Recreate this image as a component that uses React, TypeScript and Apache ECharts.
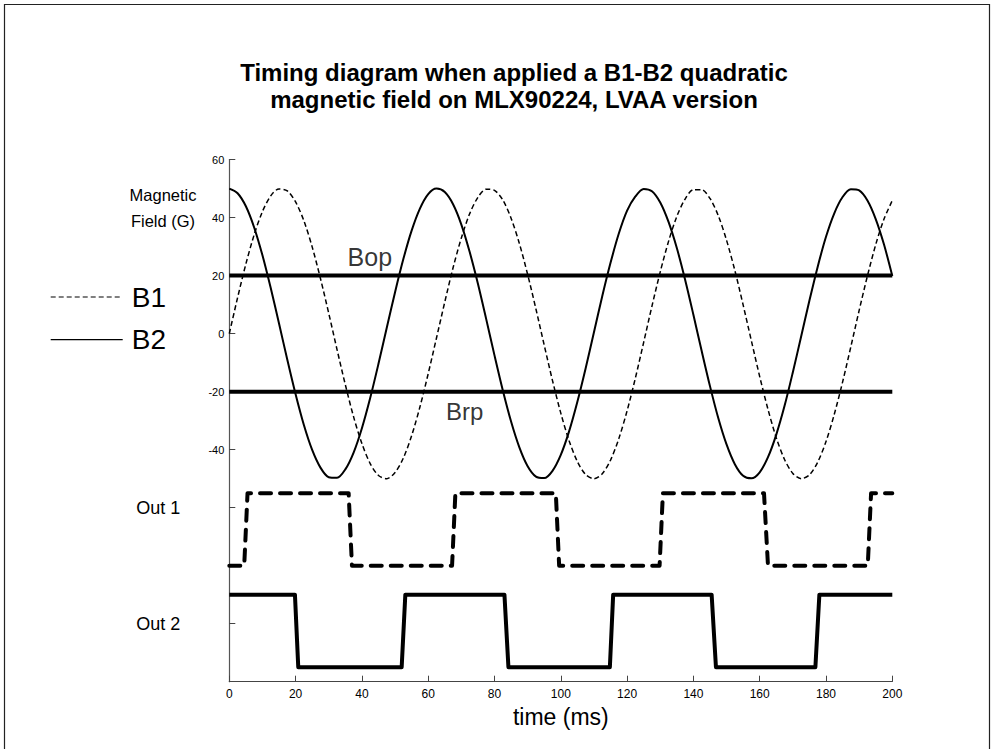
import React, { useEffect, useRef } from "react";
import * as echarts from "echarts";

const times = [0, 2.5, 5, 7.5, 10, 12.5, 15, 17.5, 20, 22.5, 25, 27.5, 30, 32.5, 35, 37.5, 40, 42.5, 45, 47.5, 50, 52.5, 55, 57.5, 60, 62.5, 65, 67.5, 70, 72.5, 75, 77.5, 80, 82.5, 85, 87.5, 90, 92.5, 95, 97.5, 100, 102.5, 105, 107.5, 110, 112.5, 115, 117.5, 120, 122.5, 125, 127.5, 130, 132.5, 135, 137.5, 140, 142.5, 145, 147.5, 150, 152.5, 155, 157.5, 160, 162.5, 165, 167.5, 170, 172.5, 175, 177.5, 180, 182.5, 185, 187.5, 190, 192.5, 195, 197.5, 200];
const b1Values = [0, 12.4, 24.0, 34.1, 42.1, 47.5, 49.9, 49.2, 45.4, 38.9, 29.9, 19.0, 7.0, -5.5, -17.6, -28.7, -37.9, -44.8, -48.9, -50.0, -47.9, -42.9, -35.2, -25.3, -13.8, -1.5, 10.9, 22.7, 33.0, 41.3, 47.0, 49.8, 49.4, 46.1, 39.8, 31.1, 20.4, 8.5, -4.0, -16.2, -27.4, -36.9, -44.1, -48.6, -50.0, -48.3, -43.6, -36.2, -26.6, -15.3, -3.0, 9.5, 21.3, 31.8, 40.4, 46.4, 49.6, 49.6, 46.6, 40.7, 32.2, 21.8, 9.9, -2.5, -14.8, -26.1, -35.9, -43.4, -48.2, -50.0, -48.7, -44.3, -37.2, -27.8, -16.7, -4.5, 8.0, 19.9, 30.7, 39.5, 45.9];
const b2Values = [50, 48.4, 43.9, 36.6, 27.0, 15.7, 3.5, -9.0, -20.9, -31.5, -40.1, -46.2, -49.5, -49.7, -46.8, -41.0, -32.6, -22.2, -10.4, 2.0, 14.3, 25.7, 35.5, 43.1, 48.1, 50.0, 48.8, 44.6, 37.6, 28.2, 17.2, 5.0, -7.5, -19.5, -30.3, -39.2, -45.7, -49.3, -49.8, -47.3, -41.8, -33.7, -23.5, -11.9, 0.5, 12.9, 24.4, 34.5, 42.4, 47.3, 49.9, 49.1, 45.2, 38.5, 29.5, 18.6, 6.5, -6.0, -18.1, -29.1, -38.2, -45.0, -49.0, -49.9, -47.8, -42.6, -34.8, -24.9, -13.3, -1.0, 11.4, 23.1, 33.4, 41.5, 47.1, 49.8, 49.4, 45.9, 39.5, 30.7, 19.9];

const out1Times = [0, 4.5, 5.5, 36, 37, 67.2, 68.2, 98.5, 99.5, 129.8, 130.8, 161.3, 162.5, 192.6, 193.6, 200];
const out1Values = [-80, -80, -55, -55, -80, -80, -55, -55, -80, -80, -55, -55, -80, -80, -55, -55];
const out2Times = [0, 19.8, 20.8, 52, 53.1, 83, 84.2, 114.8, 115.8, 145.5, 146.8, 176.8, 178, 200];
const out2Values = [-90, -90, -115, -115, -90, -90, -115, -115, -90, -90, -115, -115, -90, -90];

const bopLevel = 20;
const brpLevel = -20;
const timeRange = [0, 200];
const bopLabelAt = [42.4, bopLevel];
const brpLabelAt = [71, brpLevel];

const xTicks = [0, 20, 40, 60, 80, 100, 120, 140, 160, 180, 200];
const yTickValues = [60, 40, 20, 0, -20, -40, -60, -100];
const yTickLabels: Record<string, string> = { "-60": "Out 1", "-100": "Out 2" };

const titleText = "Timing diagram when applied a B1-B2 quadratic\nmagnetic field on MLX90224, LVAA version";
const yName = "Magnetic\nField (G)";
const xName = "time (ms)";

const FONT = "'Liberation Sans', Arial, Helvetica, sans-serif";

export default function App() {
  const ref = useRef<HTMLDivElement>(null);
  useEffect(() => {
    document.body.style.margin = "0";
    document.body.style.overflow = "hidden";
    const chart = echarts.init(ref.current!, null, { renderer: "svg" });
    const pairs = (xs: number[], ys: number[]) => xs.map((x, i) => [x, ys[i]]);
    chart.setOption({
      animation: false,
      backgroundColor: "#fff",
      textStyle: { fontFamily: FONT, color: "#000" },
      title: [
        {
          text: titleText,
          left: 509,
          top: 54,
          textAlign: "center",
          textStyle: { fontFamily: FONT, fontSize: 24, fontWeight: "bold", color: "#000", lineHeight: 27 },
        },
        {
          text: yName,
          left: 158,
          top: 177,
          textAlign: "center",
          textStyle: { fontFamily: FONT, fontSize: 16.5, fontWeight: "normal", color: "#000", lineHeight: 26 },
        },
      ],
      graphic: [
        {
          type: "rect",
          shape: { x: 4.5, y: 4.5, width: 985, height: 800 },
          style: { fill: "none", stroke: "#222", lineWidth: 1.2 },
          silent: true,
        },
      ],
      legend: {
        data: [
          { name: "B1", lineStyle: { type: [5, 3], width: 1.2 } },
          { name: "B2", lineStyle: { width: 1.4 } },
        ],
        orient: "vertical",
        left: 50,
        top: 282,
        padding: 0,
        itemWidth: 72,
        itemHeight: 14,
        itemGap: 12.6,
        selectedMode: false,
        itemStyle: { opacity: 0, borderWidth: 0 },
        textStyle: { fontFamily: FONT, fontSize: 28, color: "#000", lineHeight: 30, padding: [0, 0, 0, 4] },
      },
      grid: { left: 229.3, right: 102.7, top: 159.6, bottom: 67.3, containLabel: false },
      xAxis: {
        type: "value",
        min: timeRange[0],
        max: timeRange[1],
        interval: 20,
        name: xName,
        nameLocation: "middle",
        nameGap: 24,
        nameTextStyle: { fontFamily: FONT, fontSize: 23, color: "#000" },
        axisLine: { show: true, onZero: false, lineStyle: { color: "#444", width: 1.2 } },
        axisTick: { show: true, inside: true, length: 6, lineStyle: { color: "#444" }, customValues: xTicks },
        axisLabel: { fontSize: 12, color: "#000", margin: 6, fontFamily: FONT, customValues: xTicks },
        splitLine: { show: false },
      },
      yAxis: {
        type: "value",
        min: -120,
        max: 60,
        interval: 20,
        axisLine: { show: true, onZero: false, lineStyle: { color: "#555", width: 1.2 } },
        axisTick: { show: true, inside: true, length: 6, lineStyle: { color: "#444" }, customValues: yTickValues },
        axisLabel: {
          customValues: yTickValues,
          fontSize: 11,
          color: "#000",
          margin: 5,
          fontFamily: FONT,
          formatter: (v: number) => (yTickLabels[String(v)] ? `{o|${yTickLabels[String(v)]}}` : String(v)),
          rich: { o: { fontSize: 18, fontFamily: FONT, color: "#000", padding: [0, 44, 0, 0] } },
        },
        splitLine: { show: false },
      },
      series: [
        {
          name: "B1",
          type: "line",
          data: pairs(times, b1Values),
          smooth: 0.3,
          symbol: "none",
          lineStyle: { color: "#000", width: 1.5, type: [5, 3] },
          itemStyle: { color: "#000" },
          z: 3,
        },
        {
          name: "B2",
          type: "line",
          data: pairs(times, b2Values),
          smooth: 0.3,
          symbol: "none",
          lineStyle: { color: "#000", width: 2 },
          itemStyle: { color: "#000" },
          z: 3,
        },
        {
          name: "Bop",
          type: "line",
          data: [[timeRange[0], bopLevel], [timeRange[1], bopLevel]],
          symbol: "none",
          lineStyle: { color: "#000", width: 4 },
          z: 2,
        },
        {
          name: "Brp",
          type: "line",
          data: [[timeRange[0], brpLevel], [timeRange[1], brpLevel]],
          symbol: "none",
          lineStyle: { color: "#000", width: 4 },
          z: 2,
        },
        {
          name: "BopLabel",
          type: "scatter",
          data: [bopLabelAt],
          symbolSize: 0,
          silent: true,
          label: { show: true, position: "top", distance: 6, formatter: "Bop", fontSize: 25, color: "#000", fontFamily: FONT },
        },
        {
          name: "BrpLabel",
          type: "scatter",
          data: [brpLabelAt],
          symbolSize: 0,
          silent: true,
          label: { show: true, position: "bottom", distance: 8, formatter: "Brp", fontSize: 24, color: "#000", fontFamily: FONT },
        },
        {
          name: "Out 1",
          type: "line",
          data: pairs(out1Times, out1Values),
          symbol: "none",
          lineStyle: { color: "#000", width: 4, type: [11, 9], cap: "round", join: "round" },
        },
        {
          name: "Out 2",
          type: "line",
          data: pairs(out2Times, out2Values),
          symbol: "none",
          lineStyle: { color: "#000", width: 4, join: "round" },
        },
      ],
    });
    return () => chart.dispose();
  }, []);
  return <div ref={ref} style={{ width: 995, height: 749 }} />;
}
